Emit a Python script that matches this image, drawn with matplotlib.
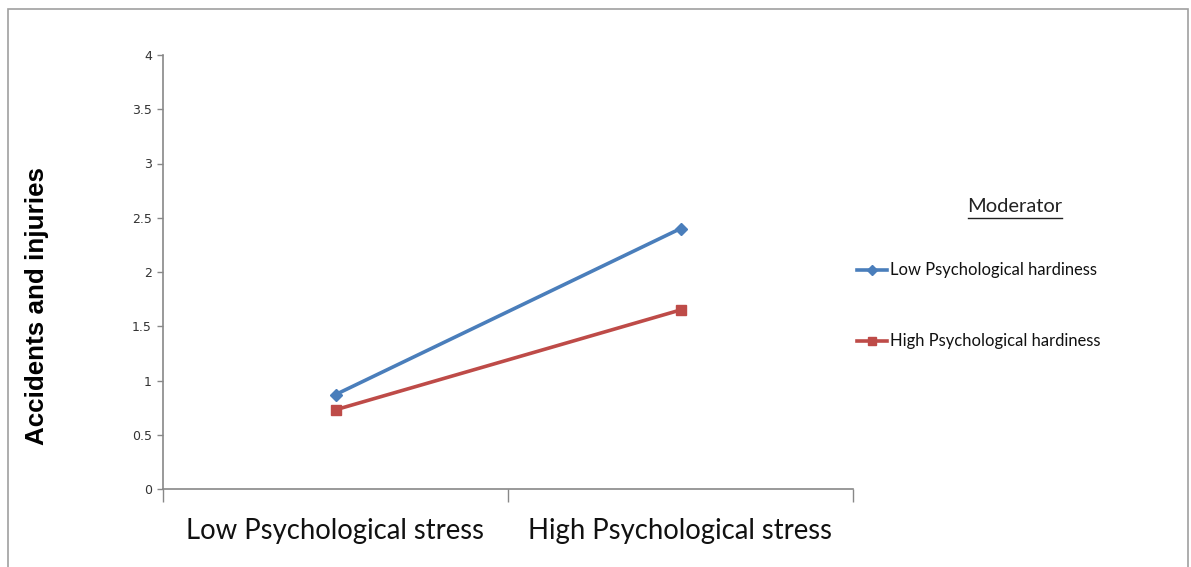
import matplotlib
matplotlib.use("Agg")
import matplotlib.pyplot as plt
from matplotlib.patches import Rectangle
from matplotlib.lines import Line2D

categories = ["Low Psychological stress", "High Psychological stress"]
series_names = ["Low Psychological hardiness", "High Psychological hardiness"]
low_hardiness = [0.87, 2.40]
high_hardiness = [0.73, 1.65]
y_ticks = [0, 0.5, 1, 1.5, 2, 2.5, 3, 3.5, 4]
y_tick_labels = ["0", "0.5", "1", "1.5", "2", "2.5", "3", "3.5", "4"]

blue = "#4a7ebb"
red = "#be4b48"
axis_grey = "#888888"

fig = plt.figure(figsize=(11.91, 5.67), dpi=100)
fig.patch.set_facecolor("white")
fig.patches.append(Rectangle((8/1191, -0.01), (1188-8)/1191, 1-9/567+0.01,
                             transform=fig.transFigure, fill=False,
                             edgecolor="#a0a0a0", linewidth=1.2))

ax = fig.add_axes([163/1191, 1-489/567, (853-163)/1191, (489-55)/567])
x = [0, 1]
ax.plot(x, low_hardiness, color=blue, linewidth=2.6, marker="D", markersize=6, zorder=3)
ax.plot(x, high_hardiness, color=red, linewidth=2.6, marker="s", markersize=7, zorder=3)

ax.set_xlim(-0.5, 1.5)
ax.set_ylim(0, 4)
for s in ["top", "right"]:
    ax.spines[s].set_visible(False)
ax.spines["left"].set_color(axis_grey)
ax.spines["bottom"].set_color(axis_grey)
ax.spines["left"].set_linewidth(1.2)
ax.spines["bottom"].set_linewidth(1.2)

ax.set_yticks(y_ticks)
ax.set_yticklabels(y_tick_labels, fontsize=9, color="#333333", family="DejaVu Sans")
ax.tick_params(axis="y", direction="out", length=4, color=axis_grey, width=1.0, pad=4)

ax.set_xticks(x)
ax.set_xticklabels(categories, fontsize=19.8, family="Lato", color="#111111")
ax.tick_params(axis="x", which="major", length=0, pad=21)
ax.set_xticks([-0.5, 0.5, 1.5], minor=True)
ax.tick_params(axis="x", which="minor", direction="out", length=9, color=axis_grey, width=1.0)

fig.text(37/1191, 1-306/567, "Accidents and injuries", rotation=90, fontsize=18.7,
         fontweight="bold", family="Liberation Sans", ha="center", va="center")

# legend
fig.text(1015/1191, 1-207/567, "Moderator", fontsize=14.5, family="Lato",
         ha="center", va="center", color="#222222")
fig.add_artist(Line2D([968/1191, 1062/1191], [1-218/567, 1-218/567],
                      transform=fig.transFigure, color="#222222", linewidth=1.0))

for i, (name, col, mk, ms) in enumerate([(series_names[0], blue, "D", 5),
                                         (series_names[1], red, "s", 6)]):
    yy = 1 - (270 + i * 71) / 567
    fig.add_artist(Line2D([857/1191, 887/1191], [yy, yy], transform=fig.transFigure,
                          color=col, linewidth=2.6))
    fig.add_artist(Line2D([872/1191], [yy], transform=fig.transFigure,
                          color=col, marker=mk, markersize=ms, linestyle="none"))
    fig.text(890/1191, yy, name, fontsize=11.9, family="Lato", ha="left",
             va="center", color="#111111")

fig.savefig("out.png", dpi=100, facecolor="white")
